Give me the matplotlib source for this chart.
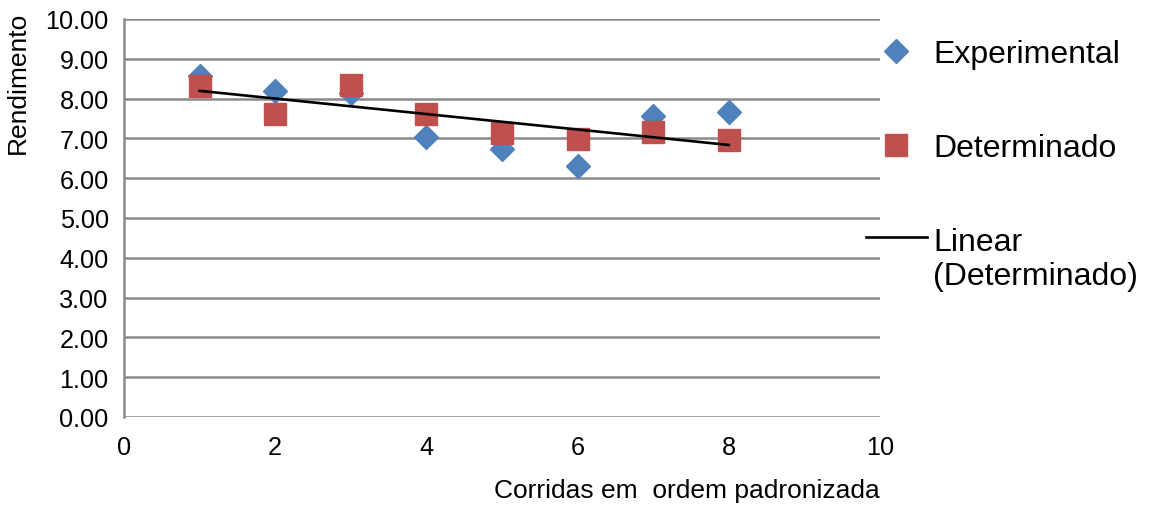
import matplotlib
matplotlib.use("Agg")
import matplotlib.pyplot as plt
import numpy as np

plt.rcParams['font.family'] = ['Liberation Sans', 'DejaVu Sans']

corridas = [1, 2, 3, 4, 5, 6, 7, 8]
experimental = [8.58, 8.20, 8.15, 7.04, 6.73, 6.30, 7.57, 7.67]
determinado = [8.32, 7.61, 8.34, 7.61, 7.14, 6.98, 7.16, 6.96]

fig = plt.figure(figsize=(11.59, 5.10), dpi=100)
ax = fig.add_axes([124/1159, 1-418/510, 756/1159, 398/510])

ax.plot(corridas, experimental, linestyle="none", marker="D", markersize=12.5,
        color="#4F81BD", label="Experimental", zorder=3)
ax.plot(corridas, determinado, linestyle="none", marker="s", markersize=16,
        color="#C0504D", label="Determinado", zorder=4)

# linha de tendencia
coef = np.polyfit(corridas, determinado, 1)
xs = np.array([corridas[0], corridas[-1]])
ax.plot(xs, np.polyval(coef, xs), color="black", linewidth=1.9,
        label="Linear\n(Determinado)", zorder=5)

ax.set_xlim(0, 10)
ax.set_ylim(0, 10)
ax.set_xticks(range(0, 11, 2))
ax.set_yticks(range(0, 11))
ax.yaxis.set_major_formatter(matplotlib.ticker.FormatStrFormatter("%.2f"))
ax.tick_params(axis="both", length=0, labelsize=18.2)
ax.tick_params(axis="y", pad=11)
ax.tick_params(axis="x", pad=13)
ax.grid(axis="y", color="#8a8a8a", linewidth=1.8)
ax.set_axisbelow(True)
for s in ["top", "right", "bottom"]:
    ax.spines[s].set_visible(False)
ax.spines["left"].set_color("#8a8a8a")
ax.spines["left"].set_linewidth(1.8)

ax.set_xlabel("Corridas em  ordem padronizada", fontsize=19, loc="right", labelpad=14)
ax.set_ylabel("Rendimento", fontsize=19)
ax.yaxis.set_label_coords(-0.124, 0.842)

leg = fig.legend(loc="upper left", bbox_to_anchor=(866/1159, 1-40/510), frameon=False,
                 fontsize=23, borderpad=0, borderaxespad=0, labelspacing=2.0,
                 handlelength=1.9, handletextpad=0.2)
# sobe a linha da legenda para a altura da primeira linha do texto
trend_handle = leg.get_lines()[-1]
trend_handle.set_ydata(np.asarray(trend_handle.get_ydata()) + 16)

plt.savefig("out.png", dpi=100)
